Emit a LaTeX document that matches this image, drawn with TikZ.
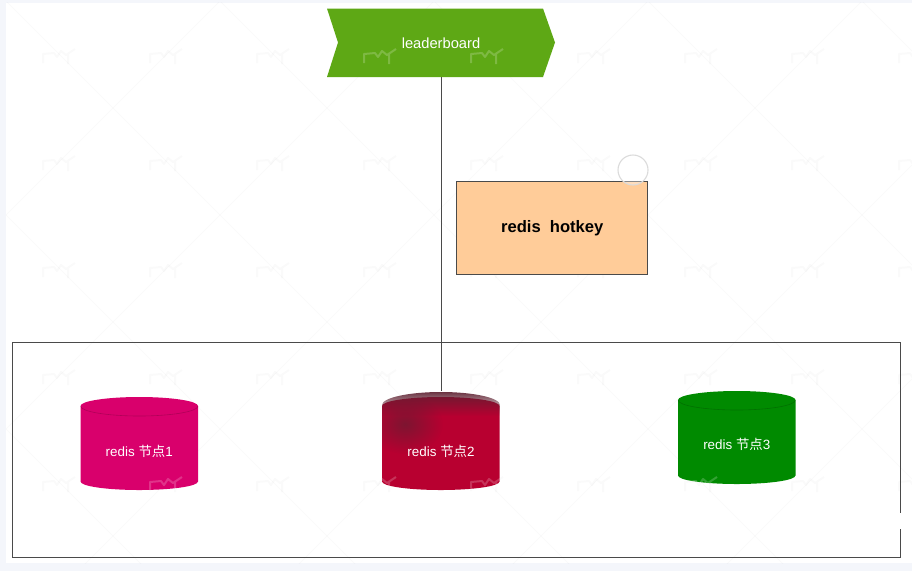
\documentclass[tikz,border=0pt]{standalone}
\usepackage{fontspec}
\setmainfont{Liberation Sans}
\newfontfamily\cjkfont{Noto Sans CJK SC}
\usetikzlibrary{calc,fadings}
\tikzfading[name=softspot,inner color=transparent!35,outer color=transparent!100]
\definecolor{pagetint}{HTML}{F4F6FB}
\definecolor{linegrey}{HTML}{4A4A4A}
\definecolor{leafgreen}{HTML}{5EA815}
\definecolor{peach}{HTML}{FFCC99}
\definecolor{magentared}{HTML}{D9006C}
\definecolor{crimson}{HTML}{B80030}
\definecolor{darkwine}{HTML}{5E2030}
\definecolor{forest}{HTML}{008A00}
\tikzset{
  edge/.style={draw=linegrey,line width=0.9pt},
  anchorbox/.style={rectangle,inner sep=0pt,outer sep=0pt,align=center},
  lighttext/.style={anchorbox,text=white,font=\fontsize{13.4}{16}\selectfont},
  drumtext/.style={lighttext,minimum width=118pt,minimum height=93pt},
  notebox/.style={anchorbox,draw=linegrey,line width=0.8pt,fill=peach,font=\fontsize{16.6}{18}\selectfont\bfseries,text=black},
  wm/.style={line width=2pt,line join=round},
  lattice/.style={draw=black,opacity=0.02,line width=0.8pt}
}
\newcommand{\drumbody}[3]{% left x, top y, colour
  \fill[#3] (#1,#2+9) -- (#1,#2+84.5)
     arc[start angle=180,end angle=360,x radius=58.75pt,y radius=8.5pt]
     -- (#1+117.5,#2+9)
     arc[start angle=0,end angle=180,x radius=58.75pt,y radius=9pt] -- cycle;
}
\newcommand{\wmark}[3]{% x, y, style
  \draw[#3] (#1-16,#2+7) -- (#1-16,#2-2) -- (#1-5,#2-3) -- (#1-2,#2+1) -- (#1+2,#2-5) -- (#1+7,#2-1) -- (#1+16,#2-7)
        (#1+9,#2-2) -- (#1+9,#2+8);
}
\begin{document}
\begin{tikzpicture}[x=1pt,y=-1pt]
\useasboundingbox (0,0) rectangle (912,571);
\fill[pagetint] (0,0) rectangle (912,571);
\fill[white] (6,2.5) rectangle (912,563);
% faint watermark
\begin{scope}
  \clip (6,2.5) rectangle (912,563);
  \foreach \k in {-4,...,8} {
    \draw[lattice] (541+214*\k-600,108-600) -- (541+214*\k+600,108+600);
    \draw[lattice] (541+214*\k+600,108-600) -- (541+214*\k-600,108+600);
  }
  \foreach \i in {-3,...,5} {\foreach \j in {0,...,4} {
    \wmark{380+107*\i}{56+107*\j}{wm,draw=black,opacity=0.018}
  }}
\end{scope}

% outer frame
\node[anchorbox,draw=linegrey,line width=0.8pt,minimum width=888pt,minimum height=215pt] (cluster) at (456.5,449.5) {};
\fill[white] (826,513) rectangle (901.5,529);

% leaderboard banner
\fill[leafgreen] (327,8.5) -- (543,8.5) -- (555,42.5) -- (543,77) -- (327,77) -- (338,42.5) -- cycle;
\node[lighttext,font=\fontsize{14.7}{16}\selectfont,minimum width=228pt,minimum height=68.5pt] (board) at (441,42.75) {leaderboard};

% note
\node[notebox,minimum width=191pt,minimum height=92.5pt,text height=12pt,text depth=3pt] (note) at (552.25,227.75) {redis\hspace{0.55em}hotkey};
\draw[draw=black!14,line width=1.1pt,fill=white,fill opacity=0.35] (633,170) circle[radius=15pt];

% drums
\drumbody{80.5}{397}{magentared}
\draw[black,opacity=0.18,line width=0.6pt] (80.5,406) arc[start angle=180,end angle=360,x radius=58.75pt,y radius=10pt];
\drumbody{382}{397}{crimson}
\begin{scope}
  \clip (382,405) arc[start angle=180,end angle=0,x radius=59pt,y radius=13pt] -- (500,482) -- (382,482) -- cycle;
  \fill[darkwine,opacity=0.95,path fading=south] (382,391) rectangle (500,416);
  \fill[darkwine,path fading=softspot] (405,424) ellipse[x radius=38pt,y radius=30pt];
\end{scope}
\drumbody{678}{391}{forest}
\draw[black,opacity=0.18,line width=0.6pt] (678,400) arc[start angle=180,end angle=360,x radius=58.75pt,y radius=10pt];

\node[drumtext] (n1) at (139.25,451) {redis {\cjkfont 节点}1};
\node[drumtext,minimum height=99pt] (n2) at (441,440.5) {};
\node[lighttext] (n2t) at (441,451) {redis {\cjkfont 节点}2};
\node[drumtext] (n3) at (736.75,444.5) {redis {\cjkfont 节点}3};

% connector
\draw[edge] (board.south) -- (n2.north);

% watermark light over coloured shapes
\begin{scope}
  \clip (327,8.5) rectangle (555,77) (80,397) rectangle (198,490) (382,393) rectangle (500,490) (678,391) rectangle (796,483);
  \foreach \i in {-3,...,5} {\foreach \j in {0,...,4} {
    \wmark{380+107*\i}{56+107*\j}{wm,draw=white,opacity=0.2}
  }}
\end{scope}
\end{tikzpicture}
\end{document}
